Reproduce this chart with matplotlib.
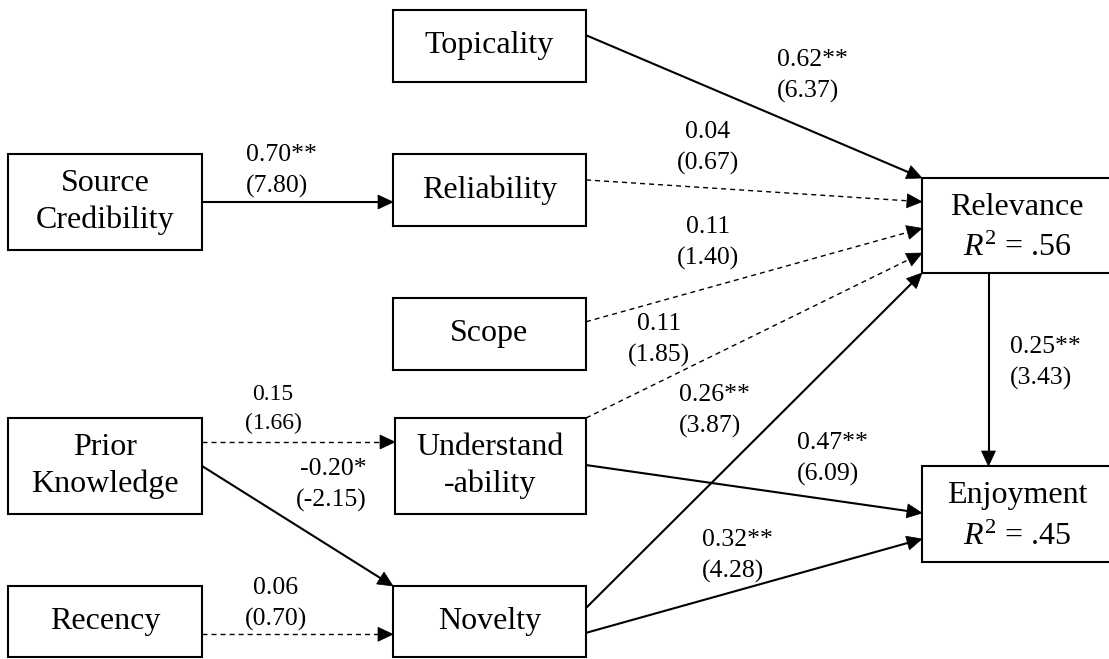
import numpy as np
import matplotlib
matplotlib.use("Agg")
import matplotlib.pyplot as plt
from matplotlib.patches import Rectangle, Polygon

plt.rcParams["font.family"] = ["Liberation Serif", "DejaVu Serif"]
plt.rcParams["mathtext.fontset"] = "custom"
plt.rcParams["mathtext.rm"] = "Liberation Serif"
plt.rcParams["mathtext.it"] = "Liberation Serif:italic"

# --- model data -----------------------------------------------------------
node_keys = ["top", "src", "rel", "scope", "prior", "und", "rec", "nov", "relev", "enj"]
node_labels = ["Topicality", "Source\nCredibility", "Reliability", "Scope",
               "Prior\nKnowledge", "Understand\n-ability", "Recency", "Novelty",
               "Relevance", "Enjoyment"]
r_squared = {"relev": ".56", "enj": ".45"}

path_from = ["src", "top", "rel", "scope", "und", "nov", "prior", "prior", "rec", "und", "nov", "relev"]
path_to = ["rel", "relev", "relev", "relev", "relev", "relev", "und", "nov", "nov", "enj", "enj", "enj"]
coefs = [0.70, 0.62, 0.04, 0.11, 0.11, 0.26, 0.15, -0.20, 0.06, 0.47, 0.32, 0.25]
t_values = [7.80, 6.37, 0.67, 1.40, 1.85, 3.87, 1.66, -2.15, 0.70, 6.09, 4.28, 3.43]
stars = ["**", "**", "", "", "", "**", "", "*", "", "**", "**", "**"]

# --- layout (pixel space) -------------------------------------------------
boxes = {
    "top": (393, 10, 586, 82),
    "src": (8, 154, 202, 250),
    "rel": (393, 154, 586, 226),
    "scope": (393, 298, 586, 370),
    "prior": (8, 418, 202, 514),
    "und": (395, 418, 586, 514),
    "rec": (8, 586, 202, 657),
    "nov": (393, 586, 586, 657),
    "relev": (922, 178, 1112, 273),
    "enj": (922, 466, 1112, 562),
}
# (side, fraction along side) for tail and head of each path
tail_anchor = [("R", 0.5), ("R", 0.35), ("R", 0.36), ("R", 0.33), ("R", 0.0), ("R", 0.31),
               ("R", 0.25), ("R", 0.5), ("R", 0.68), ("R", 0.49), ("R", 0.66), ("B", 0.35)]
head_anchor = [("L", 0.667), ("L", 0.0), ("L", 0.25), ("L", 0.53), ("L", 0.79), ("L", 1.0),
               ("L", 0.25), ("T", 0.0), ("L", 0.68), ("L", 0.49), ("L", 0.76), ("T", 0.35)]
# label anchor point, horizontal alignment, font size
label_pos = [(246, 171, "left", 18.5), (777, 76, "left", 18.5), (708, 148, "center", 18.5),
             (708, 243, "center", 18.5), (659, 340, "center", 18.5), (679, 411, "left", 18.5),
             (273, 409, "center", 17), (367, 485, "right", 18.5), (276, 604, "center", 18.5),
             (797, 459, "left", 18.5), (702, 556, "left", 18.5), (1010, 363, "left", 18.5)]


def anchor(key, side, f):
    x0, y0, x1, y1 = boxes[key]
    if side == "R":
        return np.array([x1, y0 + f * (y1 - y0)])
    if side == "L":
        return np.array([x0, y0 + f * (y1 - y0)])
    if side == "T":
        return np.array([x0 + f * (x1 - x0), y0])
    return np.array([x0 + f * (x1 - x0), y1])


def draw_path(ax, p0, p1, dashed):
    d = p1 - p0
    d = d / np.hypot(*d)
    n = np.array([-d[1], d[0]])
    hl, hw = 15, 7
    base = p1 - d * hl
    if dashed:
        ax.plot([p0[0], base[0]], [p0[1], base[1]], color="black", lw=1.0,
                ls=(0, (3.6, 2.9)), solid_capstyle="butt", zorder=1)
    else:
        ax.plot([p0[0], base[0]], [p0[1], base[1]], color="black", lw=1.5, zorder=1)
    ax.add_patch(Polygon([p1, base + n * hw, base - n * hw], closed=True,
                         facecolor="black", edgecolor="black", lw=0.5, zorder=2))


fig = plt.figure(figsize=(11.09, 6.59), dpi=100)
ax = fig.add_axes([0, 0, 1, 1])
ax.set_xlim(0, 1109)
ax.set_ylim(659, 0)
ax.axis("off")

for i in range(len(coefs)):
    p0 = anchor(path_from[i], *tail_anchor[i])
    p1 = anchor(path_to[i], *head_anchor[i])
    draw_path(ax, p0, p1, dashed=(stars[i] == ""))
    x, y, ha, fs = label_pos[i]
    txt = f"{coefs[i]:.2f}{stars[i]}\n({t_values[i]:.2f})"
    ax.text(x, y, txt, ha=ha, va="center", multialignment=ha, fontsize=fs,
            linespacing=1.45, zorder=3)

for key, lab in zip(node_keys, node_labels):
    x0, y0, x1, y1 = boxes[key]
    ax.add_patch(Rectangle((x0, y0), x1 - x0, y1 - y0, facecolor="white",
                           edgecolor="black", lw=1.5, zorder=4))
    cx, cy = (x0 + x1) / 2, (y0 + y1) / 2
    if key in r_squared:
        ax.text(cx, cy - 18, lab, ha="center", va="center", fontsize=23, zorder=5)
        ax.text(cx, cy + 23, rf"$R^{{2}}$ = {r_squared[key]}", ha="center", va="center",
                fontsize=23, zorder=5)
    else:
        ax.text(cx, cy, lab, ha="center", va="center", fontsize=23, linespacing=1.33, zorder=5)

fig.savefig("out.png", dpi=100)
